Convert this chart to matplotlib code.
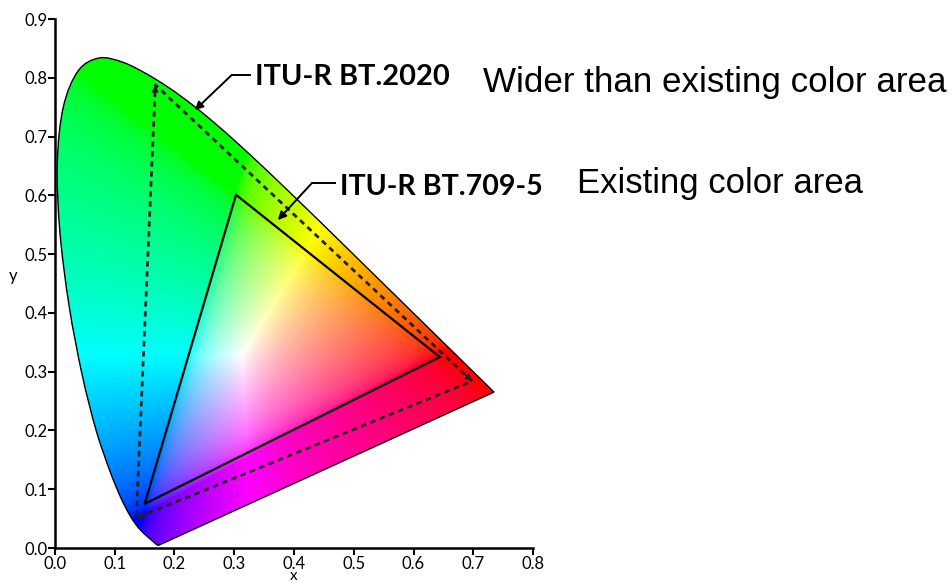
import numpy as np
import matplotlib.pyplot as plt
from matplotlib.patches import Polygon, PathPatch
from matplotlib.path import Path

# CIE 1931 spectral locus, 380-700 nm in 5 nm steps
locus_x = [0.1741, 0.1740, 0.1738, 0.1736, 0.1733, 0.1730, 0.1726, 0.1721, 0.1714,
           0.1703, 0.1689, 0.1669, 0.1644, 0.1611, 0.1566, 0.1510, 0.1440, 0.1355,
           0.1241, 0.1096, 0.0913, 0.0687, 0.0454, 0.0235, 0.0082, 0.0039, 0.0139,
           0.0389, 0.0743, 0.1142, 0.1547, 0.1929, 0.2296, 0.2658, 0.3016, 0.3373,
           0.3731, 0.4087, 0.4441, 0.4788, 0.5125, 0.5448, 0.5752, 0.6029, 0.6270,
           0.6482, 0.6658, 0.6801, 0.6915, 0.7006, 0.7079, 0.7140, 0.7190, 0.7230,
           0.7260, 0.7283, 0.7300, 0.7311, 0.7320, 0.7327, 0.7334, 0.7340, 0.7344,
           0.7346, 0.7347]
locus_y = [0.0050, 0.0050, 0.0049, 0.0049, 0.0048, 0.0048, 0.0048, 0.0048, 0.0051,
           0.0058, 0.0069, 0.0086, 0.0109, 0.0138, 0.0177, 0.0227, 0.0297, 0.0399,
           0.0578, 0.0868, 0.1327, 0.2007, 0.2950, 0.4127, 0.5384, 0.6548, 0.7502,
           0.8120, 0.8338, 0.8262, 0.8059, 0.7816, 0.7543, 0.7243, 0.6923, 0.6589,
           0.6245, 0.5896, 0.5547, 0.5202, 0.4866, 0.4544, 0.4242, 0.3965, 0.3725,
           0.3514, 0.3340, 0.3197, 0.3083, 0.2993, 0.2920, 0.2859, 0.2809, 0.2770,
           0.2740, 0.2717, 0.2700, 0.2689, 0.2680, 0.2673, 0.2666, 0.2660, 0.2656,
           0.2654, 0.2653]

# gamut triangles (R, G, B)
bt709_x = [0.644, 0.303, 0.150]
bt709_y = [0.325, 0.601, 0.075]
bt2020_x = [0.698, 0.168, 0.136]
bt2020_y = [0.284, 0.788, 0.051]

xticks = [0.0, 0.1, 0.2, 0.3, 0.4, 0.5, 0.6, 0.7, 0.8]
yticks = [0.0, 0.1, 0.2, 0.3, 0.4, 0.5, 0.6, 0.7, 0.8, 0.9]

fig = plt.figure(figsize=(9.53, 5.84), dpi=100)
ax = fig.add_axes([0.0577, 0.0616, 0.5016, 0.9058])

# colour fill: xy -> XYZ (Y=1) -> sRGB, normalised to the brightest channel
n = 700
gx, gy = np.meshgrid(np.linspace(0, 0.8, n), np.linspace(0, 0.9, n))
gy_s = np.clip(gy, 1e-3, None)
xyz = np.stack([gx / gy_s, np.ones_like(gx), (1 - gx - gy) / gy_s], axis=-1)
M = np.array([[3.2406, -1.5372, -0.4986],
              [-0.9689, 1.8758, 0.0415],
              [0.0557, -0.2040, 1.0570]])
rgb = np.clip(xyz @ M.T, 0, None)
rgb = rgb / (rgb.max(axis=-1, keepdims=True) + 1e-9)
rgb = np.where(rgb <= 0.0031308, 12.92 * rgb, 1.055 * rgb ** (1 / 2.4) - 0.055)
rgb = np.clip(rgb, 0, 1)

im = ax.imshow(rgb, origin='lower', extent=[0, 0.8, 0, 0.9], aspect='auto',
               interpolation='bilinear', zorder=1)

# smooth outline through the locus points (Catmull-Rom drawn as bezier), closed by the purple line
P = np.column_stack([locus_x, locus_y])
verts = [P[0]]
codes = [Path.MOVETO]
for i in range(len(P) - 1):
    p0 = P[max(i - 1, 0)]
    p1 = P[i]
    p2 = P[i + 1]
    p3 = P[min(i + 2, len(P) - 1)]
    verts += [p1 + (p2 - p0) / 6, p2 - (p3 - p1) / 6, p2]
    codes += [Path.CURVE4] * 3
verts += [P[0], P[0]]
codes += [Path.LINETO, Path.CLOSEPOLY]
locus = PathPatch(Path(verts, codes), facecolor='none', edgecolor='black',
                  lw=1.0, zorder=3)
ax.add_patch(locus)
im.set_clip_path(locus)

# BT.709 solid triangle
ax.add_patch(Polygon(np.column_stack([bt709_x, bt709_y]), closed=True,
                     facecolor='none', edgecolor='black', lw=1.6, zorder=4))

# BT.2020 dashed triangle
ax.plot(bt2020_x + bt2020_x[:1], bt2020_y + bt2020_y[:1], color='#222222',
        lw=2.0, dashes=(2.0, 1.6), zorder=4)
# little arrowheads at the corners: B->G, G->R, R->B
for a, b in [(2, 1), (1, 0), (0, 2)]:
    dx = bt2020_x[b] - bt2020_x[a]
    dy = bt2020_y[b] - bt2020_y[a]
    d = np.hypot(dx, dy)
    start = (bt2020_x[b] - 0.02 * dx / d, bt2020_y[b] - 0.02 * dy / d)
    ax.annotate('', xy=(bt2020_x[b], bt2020_y[b]), xytext=start,
                arrowprops=dict(arrowstyle='-|>', color='#222222', lw=1,
                                shrinkA=0, shrinkB=0, mutation_scale=10),
                zorder=5)

# leader lines
ax.plot([0.296, 0.327], [0.805, 0.805], color='black', lw=1.4, clip_on=False, zorder=6)
ax.annotate('', xy=(0.234, 0.745), xytext=(0.296, 0.805),
            arrowprops=dict(arrowstyle='-|>', color='black', lw=1.4,
                            shrinkA=0, shrinkB=0, mutation_scale=12),
            annotation_clip=False, zorder=6)
ax.plot([0.430, 0.469], [0.621, 0.621], color='black', lw=1.4, clip_on=False, zorder=6)
ax.annotate('', xy=(0.373, 0.558), xytext=(0.430, 0.621),
            arrowprops=dict(arrowstyle='-|>', color='black', lw=1.4,
                            shrinkA=0, shrinkB=0, mutation_scale=12),
            annotation_clip=False, zorder=6)

t1 = ax.text(0.335, 0.788, 'ITU-R BT.2020', fontfamily='Lato', fontweight='bold',
             fontsize=20, va='baseline', clip_on=False)
t2 = ax.text(0.477, 0.600, 'ITU-R BT.709-5', fontfamily='Lato', fontweight='bold',
             fontsize=20, va='baseline', clip_on=False)
t3 = ax.text(0.716, 0.776, 'Wider than existing color area', fontfamily='Liberation Sans',
             fontsize=25, va='baseline', clip_on=False)
t4 = ax.text(0.874, 0.604, 'Existing color area', fontfamily='Liberation Sans',
             fontsize=25, va='baseline', clip_on=False)

# fit text widths to the reference
fig.canvas.draw()
r = fig.canvas.get_renderer()
for t, w in [(t1, 195), (t2, 203), (t3, 464), (t4, 285)]:
    cur = t.get_window_extent(r).width
    t.set_fontsize(t.get_fontsize() * w / cur)

ax.set_xlim(0, 0.8)
ax.set_ylim(0, 0.9)
ax.set_xticks(xticks)
ax.set_yticks(yticks)
ax.set_xticklabels([f'{v:.1f}' for v in xticks], fontfamily='Lato', fontsize=12)
ax.set_yticklabels([f'{v:.1f}' for v in yticks], fontfamily='Lato', fontsize=12)
ax.tick_params(direction='out', length=5, width=1.5, pad=0.5)
for side in ['top', 'right']:
    ax.spines[side].set_visible(False)
for side in ['left', 'bottom']:
    ax.spines[side].set_linewidth(1.8)
ax.set_xlabel('x', fontfamily='Lato', fontsize=11, va='bottom')
ax.xaxis.set_label_coords(0.5, -0.066)
ax.set_ylabel('y', fontfamily='Lato', fontsize=12, rotation=0, labelpad=8)

fig.savefig('out.png', dpi=100)
